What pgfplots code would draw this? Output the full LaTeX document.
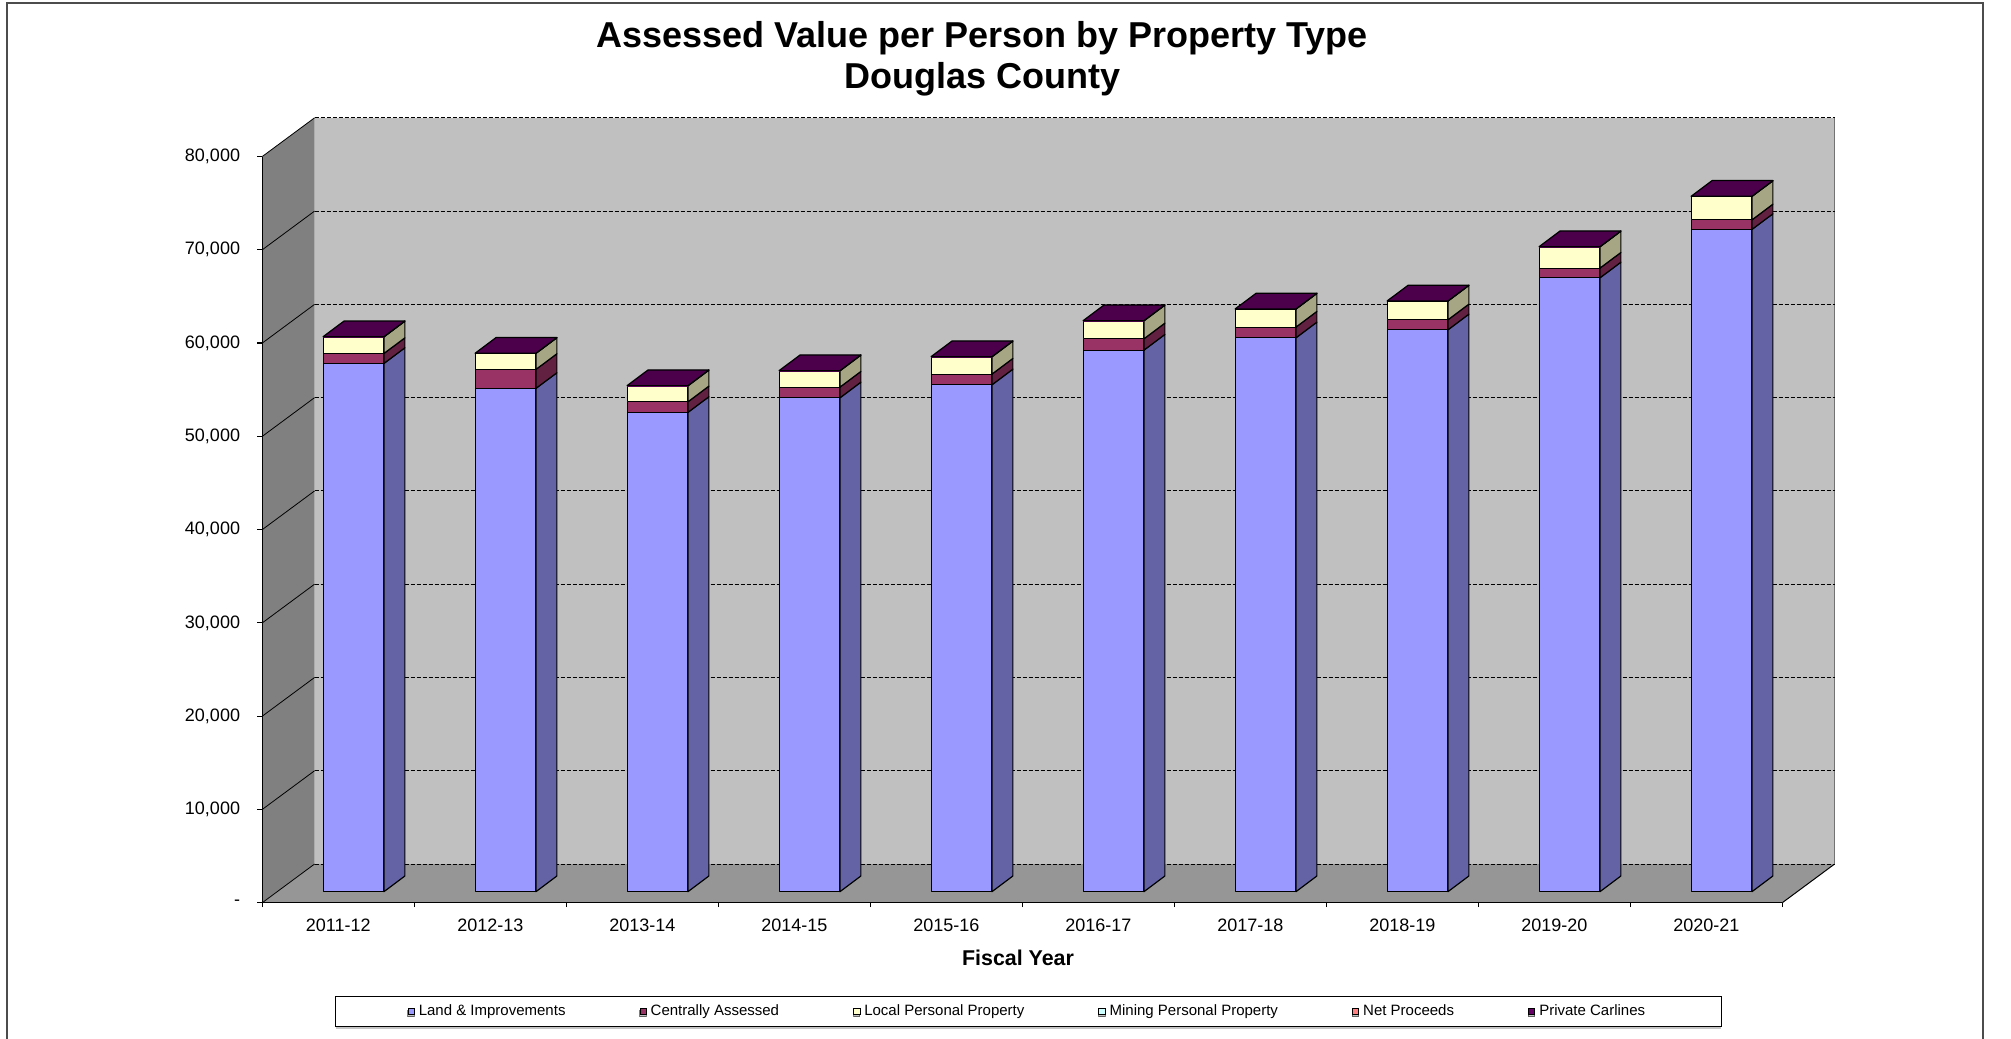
\documentclass[border=0pt]{standalone}
\usepackage{pgfplots}
\pgfplotsset{compat=1.18}
\usepackage{pgfplotstable}
\usepackage{fontspec}
\setmainfont{Liberation Sans}
\usetikzlibrary{shadows}

\definecolor{landc}{HTML}{9999FF}
\definecolor{lands}{HTML}{6363A6}
\definecolor{centc}{HTML}{993366}
\definecolor{cents}{HTML}{632142}
\definecolor{locc}{HTML}{FFFFCC}
\definecolor{locs}{HTML}{A6A685}
\definecolor{minc}{HTML}{CCFFFF}
\definecolor{mins}{HTML}{85A6A6}
\definecolor{netc}{HTML}{FF8080}
\definecolor{nets}{HTML}{A65353}
\definecolor{carc}{HTML}{660066}
\definecolor{cars}{HTML}{420042}
\definecolor{cart}{HTML}{4C004C}
\definecolor{wallback}{HTML}{C0C0C0}
\definecolor{wallside}{HTML}{808080}
\definecolor{floorc}{HTML}{969696}

% assessed value per person, by property type (stacked)
\pgfplotstableread{
year land central local mining netproc carlines
2011-12 56630 1070 1780 0 0 20
2012-13 53955 2036 1715 0 0 20
2013-14 51383 1136 1715 0 0 20
2014-15 52947 1147 1747 0 0 20
2015-16 54341 1147 1854 0 0 20
2016-17 58060 1211 1929 0 0 20
2017-18 59378 1147 1929 0 0 20
2018-19 60236 1072 2004 0 0 20
2019-20 65809 1040 2283 0 0 20
2020-21 70997 1029 2508 0 0 20
}\datatable

% 3-D geometry (axis units)
\def\dpx{0.344}  % wall depth, x
\def\dpy{4148}   % wall depth, y
\def\bx{0.1}     % bar front offset, x
\def\by{1180}    % bar front offset, y
\def\sx{0.138}   % bar depth, x
\def\sy{1683}    % bar depth, y

\newcommand\segment[4]{%
  \edef\ysa{\the\numexpr#3+\sy\relax}%
  \edef\ysb{\the\numexpr#4+\sy\relax}%
  \edef\tmp{%
    \noexpand\addplot[forget plot, fill=#1, draw=black, line width=0.6pt, line join=round]
      coordinates {(\xl,#3) (\xr,#3) (\xr,#4) (\xl,#4)} -- cycle;
    \noexpand\addplot[forget plot, fill=#2, draw=black, line width=0.6pt, line join=round]
      coordinates {(\xr,#3) (\xs,\ysa) (\xs,\ysb) (\xr,#4)} -- cycle;
  }\tmp
}

\begin{document}
\begin{tikzpicture}
\useasboundingbox (-131.15pt,-67.65pt) rectangle (874.35pt,451.35pt);
\begin{axis}[
  at={(0pt,0pt)}, anchor=south west,
  scale only axis, width=760pt, height=373.1pt,
  xmin=0, xmax=10, ymin=0, ymax=80000,
  clip=false, axis on top,
  axis x line*=bottom, axis y line*=left,
  axis line style={line width=0.7pt, black},
  tick align=outside,
  major tick length=2.6pt, minor tick length=2.2pt,
  scaled y ticks=false,
  ytick={0,10000,...,80000},
  yticklabels={-,{10,000},{20,000},{30,000},{40,000},{50,000},{60,000},{70,000},{80,000}},
  xtick={0.5,1.5,2.5,3.5,4.5,5.5,6.5,7.5,8.5,9.5},
  xticklabels from table={\datatable}{year},
  minor xtick={0,1,2,3,4,5,6,7,8,9,10},
  major x tick style={draw=none},
  every tick/.style={black, line width=0.6pt},
  tick label style={font=\fontsize{9}{10.8}\selectfont},
  yticklabel style={xshift=-5pt},
  xticklabel style={yshift=-2pt},
  /pgf/number format/assume math mode=true,
  title={Assessed Value per Person by Property Type\\Douglas County},
  title style={align=center, font=\bfseries\fontsize{18}{20.5}\selectfont,
    at={(axis description cs:0.4736,1.1153)}, anchor=center},
  xlabel={Fiscal Year},
  xlabel style={font=\bfseries\fontsize{10.7}{12}\selectfont,
    at={(axis description cs:0.4972,-0.0741)}, anchor=center},
  legend columns=6,
  legend cell align=left,
  legend style={at={(axis description cs:0.504,-0.1463)}, anchor=center,
    font=\fontsize{7.5}{9}\selectfont, draw=black, line width=0.5pt,
    inner ysep=2pt, inner xsep=36pt,
    drop shadow={shadow xshift=0pt, shadow yshift=-1pt, fill=black!45},
    /tikz/every even column/.append style={column sep=35pt}},
  legend image code/.code={\draw[#1, draw=black, line width=0.4pt] (0pt,-1.4pt) rectangle (3.2pt,1.8pt);},
]
% left wall
\addplot[forget plot, fill=wallside, draw=none] coordinates {(0,0) (\dpx,\dpy) (\dpx,84148) (0,80000)} -- cycle;
% floor
\addplot[forget plot, fill=floorc, draw=none] coordinates {(0,0) (10,0) (10+\dpx,\dpy) (\dpx,\dpy)} -- cycle;
\addplot[forget plot, black, line width=0.5pt] coordinates {(10,0) (10.344,\dpy)};
% back wall
\addplot[forget plot, fill=wallback, draw=none] coordinates {(\dpx,\dpy) (10.344,\dpy) (10.344,84148) (\dpx,84148)} -- cycle;
\addplot[forget plot, draw=black!55, line width=0.7pt] coordinates {(10.344,\dpy) (10.344,84148)};
% gridlines
\pgfplotsforeachungrouped \k in {0,...,8}{%
  \edef\ga{\the\numexpr\k*10000\relax}%
  \edef\gb{\the\numexpr\k*10000+\dpy\relax}%
  \edef\tmp{%
    \noexpand\addplot[forget plot, black, line width=0.5pt, dash pattern=on 2pt off 1pt]
      coordinates {(\dpx,\gb) (10.344,\gb)};
    \noexpand\addplot[forget plot, black, line width=0.4pt]
      coordinates {(0,\ga) (\dpx,\gb)};
  }\tmp
}
% bars
\pgfplotsforeachungrouped \i in {0,...,9}{%
  \pgfplotstablegetelem{\i}{land}\of\datatable\let\va\pgfplotsretval
  \pgfplotstablegetelem{\i}{central}\of\datatable\let\vb\pgfplotsretval
  \pgfplotstablegetelem{\i}{local}\of\datatable\let\vc\pgfplotsretval
  \pgfplotstablegetelem{\i}{mining}\of\datatable\let\vd\pgfplotsretval
  \pgfplotstablegetelem{\i}{netproc}\of\datatable\let\ve\pgfplotsretval
  \pgfplotstablegetelem{\i}{carlines}\of\datatable\let\vf\pgfplotsretval
  \pgfmathsetmacro\xl{\i+0.3+\bx}%
  \pgfmathsetmacro\xr{\i+0.7+\bx}%
  \pgfmathsetmacro\xs{\xr+\sx}%
  \pgfmathsetmacro\xt{\xl+\sx}%
  \edef\ya{\by}%
  \edef\yb{\the\numexpr\ya+\va\relax}%
  \edef\yc{\the\numexpr\yb+\vb\relax}%
  \edef\yd{\the\numexpr\yc+\vc\relax}%
  \edef\ye{\the\numexpr\yd+\vd\relax}%
  \edef\yf{\the\numexpr\ye+\ve\relax}%
  \edef\yg{\the\numexpr\yf+\vf\relax}%
  \segment{landc}{lands}{\ya}{\yb}%
  \segment{centc}{cents}{\yb}{\yc}%
  \segment{locc}{locs}{\yc}{\yd}%
  \segment{carc}{cars}{\yf}{\yg}%
  \edef\ygs{\the\numexpr\yg+\sy\relax}%
  \edef\tmp{%
    \noexpand\addplot[forget plot, fill=cart, draw=black, line width=0.6pt, line join=round]
      coordinates {(\xl,\yg) (\xr,\yg) (\xs,\ygs) (\xt,\ygs)} -- cycle;
  }\tmp
}
% legend
\addlegendimage{fill=landc}\addlegendentry{Land \& Improvements}
\addlegendimage{fill=centc}\addlegendentry{Centrally Assessed}
\addlegendimage{fill=locc}\addlegendentry{Local Personal Property}
\addlegendimage{fill=minc}\addlegendentry{Mining Personal Property}
\addlegendimage{fill=netc}\addlegendentry{Net Proceeds}
\addlegendimage{fill=carc}\addlegendentry{Private Carlines}
\end{axis}
\draw[line width=0.6pt, black!70] (-127.65pt,-90pt) rectangle (860.35pt,449.85pt);
\end{tikzpicture}
\end{document}
